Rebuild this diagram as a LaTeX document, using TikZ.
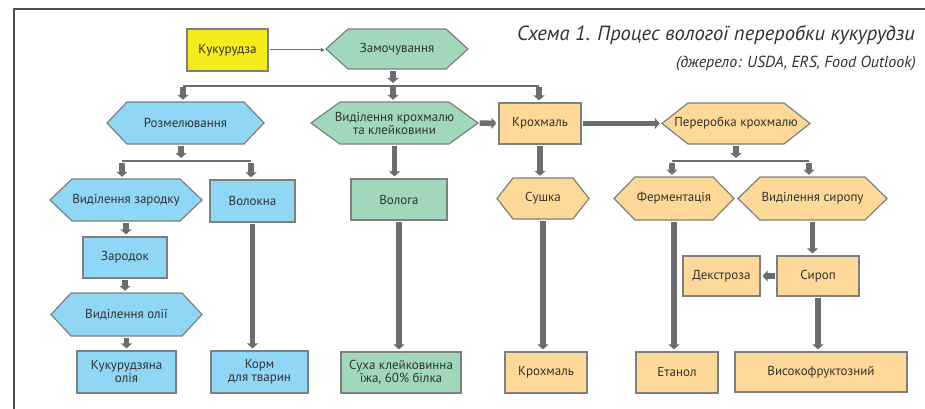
\documentclass[tikz,border=0pt]{standalone}
\usepackage{fontspec}
\setmainfont{PT Sans}
\usetikzlibrary{arrows.meta,calc}
\definecolor{cyel}{RGB}{245,234,26}
\definecolor{cgrn}{RGB}{161,216,186}
\definecolor{cblu}{RGB}{144,214,245}
\definecolor{corg}{RGB}{253,216,150}
\definecolor{cbrd}{RGB}{125,127,128}
\definecolor{carr}{RGB}{108,109,112}
\definecolor{ctxt}{RGB}{50,50,50}
\definecolor{cframe}{RGB}{80,80,80}
\tikzset{
 lbl/.style={inner sep=0pt, text=ctxt, font=\fontsize{13}{13}\selectfont, align=center},
 rbox/.style={lbl, draw=cbrd, line width=1.2pt},
 hexline/.style={draw=cbrd, line width=1.2pt},
 fat/.style={draw=carr, line width=5.5pt, -{Triangle[length=5pt,width=11pt]}, shorten <=1.5pt, shorten >=2pt},
 branch/.style={draw=carr, line width=1.2pt},
 slim/.style={draw=carr, line width=1pt, -{Triangle[length=4pt,width=4pt]}},
 frameline/.style={draw=cframe, line width=2pt},
}
\newcommand\hexnode[8]{%
 \filldraw[hexline, fill=#7] ({#2-#4/2},#3) -- ({#2-#4/2+#6},{#3-#5/2}) -- ({#2+#4/2-#6},{#3-#5/2}) -- ({#2+#4/2},#3) -- ({#2+#4/2-#6},{#3+#5/2}) -- ({#2-#4/2+#6},{#3+#5/2}) -- cycle;
 \node[lbl, minimum width=#4pt, minimum height=#5pt] (#1) at (#2,#3) {#8};}
\begin{document}
\begin{tikzpicture}[x=1pt,y=-1pt]
\useasboundingbox (0,0) rectangle (925,409);
\draw[frameline] (925,9.5) -- (14,9.5) -- (14,409);
\node[anchor=base east, font=\fontsize{20.5}{20.5}\selectfont\itshape, text=ctxt, inner sep=0pt] (title) at (915,41) {Схема 1. Процес вологої переробки кукурудзи};
\node[anchor=base east, font=\fontsize{16}{16}\selectfont\itshape, text=ctxt, inner sep=0pt] (src) at (916,68) {(джерело: USDA, ERS, Food Outlook)};

\node[rbox, fill=cyel, minimum width=81pt, minimum height=42pt] (kuk) at (227.5,50) {Кукурудза};
\hexnode{zam}{397}{49}{142}{40}{22}{cgrn}{Замочування}
\hexnode{rozm}{185.5}{123}{157}{42}{20}{cblu}{Розмелювання}
\hexnode{vkr}{394.5}{123}{167}{42}{29}{cgrn}{Виділення крохмалю\\та клейковини}
\node[rbox, fill=corg, minimum width=82pt, minimum height=41pt] (krox) at (540,123.5) {Крохмаль};
\hexnode{perer}{736}{123.5}{148}{41}{26}{corg}{Переробка крохмалю}

\hexnode{vzar}{126}{200}{152}{42}{22}{cblu}{Виділення зародку}
\node[rbox, fill=cblu, minimum width=85pt, minimum height=42pt] (volk) at (252.5,201) {Волокна};
\node[rbox, fill=cgrn, minimum width=96pt, minimum height=41pt] (volg) at (399,199.5) {Волога};
\hexnode{sush}{543}{198.5}{92}{41}{16}{corg}{Сушка}
\hexnode{ferm}{674}{198.5}{120}{43}{21}{corg}{Ферментація}
\hexnode{vsyr}{812.5}{198.5}{149}{43}{22}{corg}{Виділення сиропу}

\node[rbox, fill=cblu, minimum width=84pt, minimum height=41pt] (zar) at (125,257.5) {Зародок};
\node[rbox, fill=corg, minimum width=77pt, minimum height=40pt] (dex) at (721.5,276) {Декстроза};
\node[rbox, fill=corg, minimum width=82pt, minimum height=40pt] (syr) at (818,276) {Сироп};
\hexnode{voli}{126.5}{314.5}{151}{43}{20}{cblu}{Виділення олії}

\node[rbox, fill=cblu, minimum width=99pt, minimum height=42pt] (kol) at (126.5,372) {Кукурудзяна\\олія};
\node[rbox, fill=cblu, minimum width=97pt, minimum height=42pt] (korm) at (259.5,372) {Корм\\для тварин};
\node[rbox, fill=cgrn, minimum width=120pt, minimum height=41pt] (such) at (401,372.5) {Суха клейковинна\\їжа, 60\% білка};
\node[rbox, fill=corg, minimum width=82pt, minimum height=41pt] (krox2) at (546,372.5) {Крохмаль};
\node[rbox, fill=corg, minimum width=82pt, minimum height=41pt] (etan) at (677,372.5) {Етанол};
\node[rbox, fill=corg, minimum width=172pt, minimum height=40pt] (hfcs) at (821,372) {Високофруктозний};

% connectors
\draw[slim, shorten <=1pt, shorten >=1pt] (kuk.east) -- (kuk.east -| zam.west);

\coordinate (j1) at (393,86);
\coordinate (j1l) at (183,86);
\coordinate (j1r) at (539,86);
\draw[fat, shorten >=3pt] (zam.south -| j1) -- (j1);
\draw[branch] (j1l) -- (j1r);
\draw[fat] (j1l) -- (j1l |- rozm.north);
\draw[fat] (j1) -- (j1 |- vkr.north);
\draw[fat] (j1r) -- (j1r |- krox.north);

\coordinate (j2) at (181,161);
\coordinate (j2l) at (122,161);
\coordinate (j2r) at (251,161);
\draw[fat, shorten >=3pt] (rozm.south -| j2) -- (j2);
\draw[branch] (j2l) -- (j2r);
\draw[fat] (j2l) -- (j2l |- vzar.north);
\draw[fat] (j2r) -- (j2r |- volk.north);

\coordinate (j3) at (736,161);
\coordinate (j3l) at (672,161);
\coordinate (j3r) at (809,161);
\draw[fat, shorten >=3pt] (perer.south -| j3) -- (j3);
\draw[branch] (j3l) -- (j3r);
\draw[fat] (j3l) -- (j3l |- ferm.north);
\draw[fat] (j3r) -- (j3r |- vsyr.north);

\draw[fat] (vkr.east) -- (krox.west);
\draw[fat] (krox.east) -- (perer.west);
\draw[fat] (vkr.south) -- (vkr.south |- volg.north);
\draw[fat] (krox.south) -- (krox.south |- sush.north);
\draw[fat] (vzar.south) -- (vzar.south |- zar.north);
\draw[fat] (zar.south) -- (zar.south |- voli.north);
\draw[fat] (voli.south) -- (voli.south |- kol.north);
\draw[fat] (volk.south) -- (volk.south |- korm.north);
\draw[fat] (volg.south) -- (volg.south |- such.north);
\draw[fat] (sush.south) -- (sush.south |- krox2.north);
\draw[fat] (ferm.south) -- (ferm.south |- etan.north);
\draw[fat] (vsyr.south) -- (vsyr.south |- syr.north);
\draw[fat] (syr.west) -- (dex.east);
\draw[fat] (syr.south) -- (syr.south |- hfcs.north);
\end{tikzpicture}
\end{document}
